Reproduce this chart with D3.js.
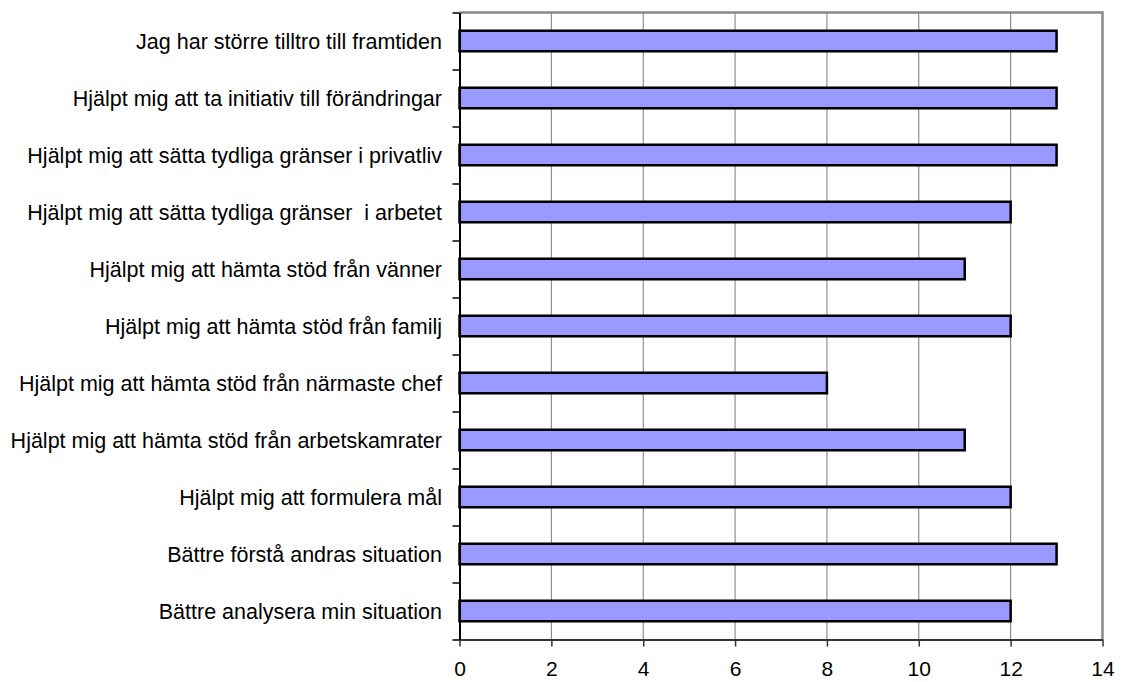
<!DOCTYPE html>
<html><head><meta charset="utf-8">
<script src="https://cdn.jsdelivr.net/npm/d3@7"></script>
<style>body{margin:0;background:#fff}svg{display:block}text{font-family:"Liberation Sans",Arial,sans-serif}</style>
</head><body>
<svg id="c" width="1123" height="682"></svg>
<script>
const categories = [
  "Jag har större tilltro till framtiden",
  "Hjälpt mig att ta initiativ till förändringar",
  "Hjälpt mig att sätta tydliga gränser i privatliv",
  "Hjälpt mig att sätta tydliga gränser  i arbetet",
  "Hjälpt mig att hämta stöd från vänner",
  "Hjälpt mig att hämta stöd från familj",
  "Hjälpt mig att hämta stöd från närmaste chef",
  "Hjälpt mig att hämta stöd från arbetskamrater",
  "Hjälpt mig att formulera mål",
  "Bättre förstå andras situation",
  "Bättre analysera min situation"
];
const values = [13, 13, 13, 12, 11, 12, 8, 11, 12, 13, 12];
const xTicks = [0, 2, 4, 6, 8, 10, 12, 14];

const svg = d3.select("#c");
const L = 459.5, R = 1102.5, T = 12.5, B = 639.5;
const x = d3.scaleLinear().domain([0, 14]).range([L, R]);
const y = d3.scaleBand().domain(categories).range([T, B]).paddingInner(0.64).paddingOuter(0.32);
const yLin = d3.scaleLinear().domain([0, categories.length]).range([T, B]);

// gridlines
svg.append("g").selectAll("line").data(xTicks.filter(d => d > 0 && d < 14)).join("line")
  .attr("x1", d => x(d)).attr("x2", d => x(d)).attr("y1", T).attr("y2", B)
  .attr("stroke", "#7a7a7a").attr("stroke-width", 1);

// top and right border
svg.append("path").attr("d", `M${L},${T}H${R}V${B}`).attr("fill", "none")
  .attr("stroke", "#888").attr("stroke-width", 2.5);

// bars
svg.append("g").selectAll("rect").data(categories).join("rect")
  .attr("x", x(0)).attr("y", d => y(d))
  .attr("width", (d, i) => x(values[i]) - x(0))
  .attr("height", y.bandwidth())
  .attr("fill", "#9999ff").attr("stroke", "#000").attr("stroke-width", 2.5);

// x axis
const xa = svg.append("g").attr("transform", `translate(0,${B})`)
  .call(d3.axisBottom(x).tickValues(xTicks).tickSize(7).tickPadding(15).tickSizeOuter(0));
xa.select(".domain").attr("stroke", "#333").attr("stroke-width", 2);
xa.selectAll(".tick line").attr("stroke", "#333").attr("stroke-width", 1.5);
xa.selectAll(".tick text").attr("font-size", "21px").attr("fill", "#000")
  .attr("font-family", "'Liberation Sans', Arial, sans-serif");

// y axis (ticks at category boundaries)
const ya = svg.append("g").attr("transform", `translate(${L},0)`)
  .call(d3.axisLeft(yLin).tickValues(d3.range(categories.length + 1)).tickSize(7).tickFormat("").tickSizeOuter(0));
ya.select(".domain").attr("stroke", "#000").attr("stroke-width", 2);
ya.selectAll(".tick line").attr("stroke", "#000").attr("stroke-width", 1.5);

// category labels
svg.append("g").selectAll("text").data(categories).join("text")
  .attr("x", 442).attr("y", d => y(d) + y.bandwidth() / 2 + 7.5)
  .attr("text-anchor", "end").attr("font-size", "21.5px").attr("fill", "#000")
  .style("white-space", "pre").attr("xml:space", "preserve")
  .text(d => d);
</script>
</body></html>
